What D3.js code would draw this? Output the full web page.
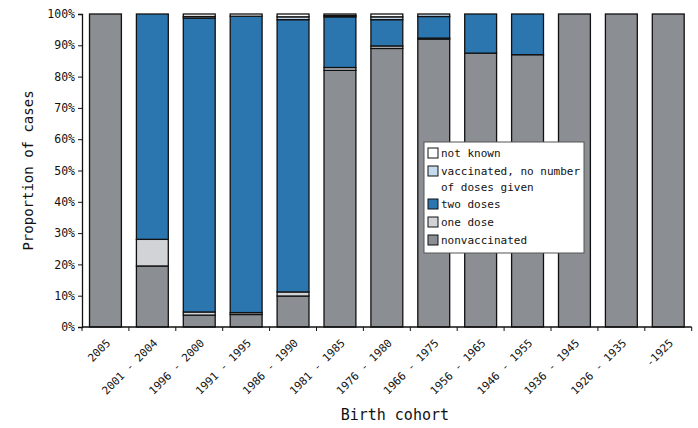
<!DOCTYPE html>
<html>
<head>
<meta charset="utf-8">
<script src="https://cdn.jsdelivr.net/npm/d3@7"></script>
<style>
  body { margin: 0; background: #fff; }
  svg text { font-family: "DejaVu Sans Mono", monospace; fill: #111; }
</style>
</head>
<body>
<svg id="chart" width="698" height="428"></svg>
<script>
// birth cohorts, left to right
const cohorts = ['2005', '2001 - 2004', '1996 - 2000', '1991 - 1995', '1986 - 1990',
  '1981 - 1985', '1976 - 1980', '1966 - 1975', '1956 - 1965', '1946 - 1955',
  '1936 - 1945', '1926 - 1935', '-1925'];

// percentages per cohort, stacked bottom to top
const nonvaccinated = [100, 19.5, 3.8, 4.0, 9.9, 82.0, 89.0, 92.0, 87.5, 87.0, 100, 100, 100];
const oneDose       = [0, 8.5, 1.0, 0.6, 1.3, 0.9, 0.8, 0.3, 0, 0, 0, 0, 0];
const twoDoses      = [0, 72.0, 93.9, 94.7, 87.0, 16.2, 8.4, 6.9, 12.5, 13.0, 0, 0, 0];
const noNumber      = [0, 0, 0.5, 0, 0.9, 0.4, 0.9, 0.8, 0, 0, 0, 0, 0];
const notKnown      = [0, 0, 0.8, 0.7, 0.9, 0.5, 0.9, 0, 0, 0, 0, 0, 0];

const yTicks = [0, 10, 20, 30, 40, 50, 60, 70, 80, 90, 100];

const series = [
  {key: 'nonvaccinated', label: ['nonvaccinated'], values: nonvaccinated, color: '#8b8e92'},
  {key: 'oneDose', label: ['one dose'], values: oneDose, color: '#d1d3d7'},
  {key: 'twoDoses', label: ['two doses'], values: twoDoses, color: '#2c76b0'},
  {key: 'noNumber', label: ['vaccinated, no number', 'of doses given'], values: noNumber, color: '#c3dbec'},
  {key: 'notKnown', label: ['not known'], values: notKnown, color: '#ffffff'}
];

const svg = d3.select('#chart');
const plotLeft = 82, plotRight = 691.7, plotTop = 14, plotBottom = 327;

const rows = cohorts.map((c, i) => {
  const r = {cohort: c};
  series.forEach(s => { r[s.key] = s.values[i]; });
  return r;
});

const x = d3.scaleBand().domain(cohorts).range([plotLeft, plotRight])
  .paddingInner(0.32).paddingOuter(0.16);
const y = d3.scaleLinear().domain([0, 100]).range([plotBottom, plotTop]);

const stack = d3.stack().keys(series.map(s => s.key));
const layers = stack(rows);

// bars
svg.append('g').selectAll('g')
  .data(layers)
  .join('g')
  .attr('fill', (d, i) => series[i].color)
  .selectAll('rect')
  .data(d => d.filter(p => p[1] - p[0] > 0))
  .join('rect')
  .attr('x', d => x(d.data.cohort))
  .attr('width', x.bandwidth())
  .attr('y', d => y(d[1]))
  .attr('height', d => y(d[0]) - y(d[1]))
  .attr('stroke', '#111')
  .attr('stroke-width', 1.3);

// y axis
const yAxis = svg.append('g')
  .attr('transform', 'translate(' + plotLeft + ',0)')
  .call(d3.axisLeft(y).tickValues(yTicks).tickFormat(d => d + '%').tickSize(4).tickPadding(3));
yAxis.select('.domain').attr('stroke', '#111').attr('stroke-width', 1.3);
yAxis.selectAll('.tick line').attr('stroke', '#111');
yAxis.selectAll('text').style('font-size', '11.5px');

// x axis: line plus ticks between categories
svg.append('line')
  .attr('x1', plotLeft).attr('x2', plotRight).attr('y1', plotBottom).attr('y2', plotBottom)
  .attr('stroke', '#111').attr('stroke-width', 1.3);
const step = x.step();
svg.append('g').selectAll('line')
  .data(d3.range(cohorts.length + 1))
  .join('line')
  .attr('x1', i => plotLeft + i * step).attr('x2', i => plotLeft + i * step)
  .attr('y1', plotBottom).attr('y2', plotBottom + 4)
  .attr('stroke', '#111');

svg.append('g').selectAll('text')
  .data(cohorts)
  .join('text')
  .attr('transform', d => 'translate(' + (x(d) + x.bandwidth() / 2 + 3) + ',' + (plotBottom + 14) + ') rotate(-45)')
  .attr('text-anchor', 'end')
  .attr('dy', '0.35em')
  .style('font-size', '11px')
  .text(d => d);

// axis titles
svg.append('text')
  .attr('transform', 'translate(33,' + ((plotTop + plotBottom) / 2) + ') rotate(-90)')
  .attr('text-anchor', 'middle')
  .style('font-size', '14px')
  .text('Proportion of cases');

svg.append('text')
  .attr('x', (plotLeft + plotRight) / 2 + 8)
  .attr('y', 420)
  .attr('text-anchor', 'middle')
  .style('font-size', '15px')
  .text('Birth cohort');

// legend
const legend = svg.append('g').attr('transform', 'translate(424,142)');
legend.append('rect')
  .attr('width', 160).attr('height', 111)
  .attr('fill', '#fff').attr('stroke', '#555').attr('stroke-width', 1);

const legendItems = series.slice().reverse();
const rowY = [11, 29, 62, 80, 98];
legendItems.forEach((s, i) => {
  const g = legend.append('g').attr('transform', 'translate(0,' + rowY[i] + ')');
  g.append('rect')
    .attr('x', 4).attr('y', -5).attr('width', 10).attr('height', 10)
    .attr('fill', s.color).attr('stroke', '#111').attr('stroke-width', 1);
  s.label.forEach((t, j) => {
    g.append('text')
      .attr('x', 17).attr('y', j * 16)
      .attr('dy', '0.35em')
      .style('font-size', '11px')
      .text(t);
  });
});
</script>
</body>
</html>
